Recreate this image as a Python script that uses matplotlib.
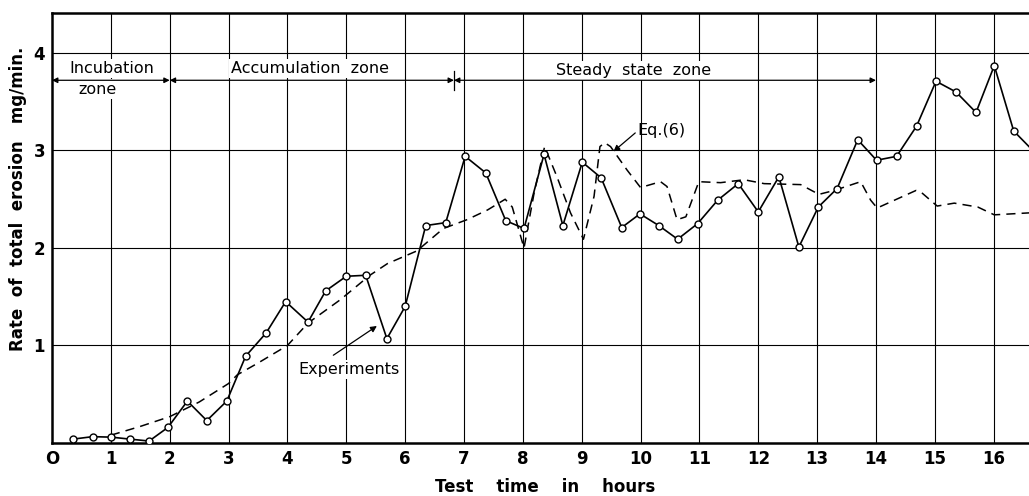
import numpy as np
import matplotlib.pyplot as plt

plt.rcParams['font.family'] = ['DejaVu Sans']

# Experiments (open circles), test time in hours vs rate of total erosion (mg/min)
exp_hours = [0.36, 0.69, 1.01, 1.32, 1.65, 1.97, 2.30, 2.63, 2.97, 3.29, 3.64, 3.97,
             4.35, 4.65, 5.00, 5.33, 5.69, 6.00, 6.35, 6.69, 7.02, 7.37, 7.71, 8.02,
             8.36, 8.68, 9.01, 9.33, 9.68, 9.99, 10.31, 10.63, 10.97, 11.31, 11.66,
             12.00, 12.35, 12.69, 13.02, 13.34, 13.69, 14.01, 14.35, 14.69, 15.02,
             15.36, 15.70, 16.01, 16.34]
exp_rate = [0.04, 0.065, 0.06, 0.04, 0.02, 0.16, 0.43, 0.23, 0.43, 0.89, 1.13, 1.45,
            1.24, 1.56, 1.71, 1.72, 1.07, 1.40, 2.23, 2.26, 2.94, 2.77, 2.28, 2.20,
            2.96, 2.23, 2.88, 2.72, 2.21, 2.35, 2.23, 2.09, 2.25, 2.49, 2.66,
            2.37, 2.73, 2.01, 2.42, 2.61, 3.11, 2.90, 2.94, 3.25, 3.71,
            3.60, 3.39, 3.87, 3.20]
# the curve runs on past the last circle to the frame edge
exp_tail_hours = [16.34, 16.6]
exp_tail_rate = [3.20, 3.04]

# Eq.(6) prediction (dashed)
eq_hours = [1.0, 1.5, 2.0, 2.5, 3.0, 3.15, 3.5, 4.0, 4.35, 4.9, 5.4, 5.7, 6.2, 6.65,
            7.05, 7.4, 7.7, 7.82, 8.02, 8.19, 8.37, 8.58, 8.81, 9.03, 9.21, 9.31,
            9.39, 9.49, 9.77, 10.0, 10.34, 10.45, 10.62, 10.77, 10.99, 11.36, 11.76,
            12.1, 12.72, 13.03, 13.29, 13.74, 13.91, 14.02, 14.68, 14.79, 15.04,
            15.33, 15.73, 16.01, 16.6]
eq_rate = [0.08, 0.17, 0.27, 0.42, 0.61, 0.70, 0.82, 1.0, 1.23, 1.47, 1.72, 1.84, 1.97, 2.2,
           2.29, 2.39, 2.50, 2.42, 2.0, 2.56, 3.04, 2.73, 2.36, 2.09, 2.53, 3.04,
           3.08, 3.04, 2.80, 2.62, 2.68, 2.63, 2.29, 2.32, 2.68, 2.67, 2.70,
           2.66, 2.65, 2.55, 2.59, 2.68, 2.49, 2.41, 2.59, 2.56, 2.43,
           2.46, 2.42, 2.34, 2.36]

x_ticks = list(range(0, 17))
x_labels = ['O'] + [str(i) for i in range(1, 17)]
y_ticks = [1, 2, 3, 4]

fig = plt.figure(figsize=(10.29, 4.96), dpi=100)
ax = fig.add_axes([52 / 1029, 53 / 496, 977 / 1029, 430 / 496])
ax.set_xlim(0, 16.6)
ax.set_ylim(0, 4.41)

# grid
for x in x_ticks[1:]:
    ax.axvline(x, color='black', lw=0.8, zorder=1)
for y in y_ticks:
    ax.axhline(y, color='black', lw=0.8, zorder=1)

ax.plot(exp_hours, exp_rate, '-', color='black', lw=1.2, zorder=3)
ax.plot(exp_tail_hours, exp_tail_rate, '-', color='black', lw=1.2, zorder=3)
ax.plot(exp_hours, exp_rate, 'o', ms=5, mfc='white', mec='black', mew=1.0, zorder=4)
ax.plot(eq_hours, eq_rate, '--', color='black', lw=1.1, dashes=(6, 4), zorder=2)

ax.set_xticks(x_ticks)
ax.set_xticklabels(x_labels, fontsize=12, fontweight='semibold')
ax.set_yticks(y_ticks)
ax.set_yticklabels([str(v) for v in y_ticks], fontsize=12, fontweight='bold')
ax.tick_params(length=0, pad=5)
for s in ['left', 'bottom', 'top']:
    ax.spines[s].set_linewidth(1.8)
ax.spines['right'].set_visible(False)

# zone annotations
ya = 3.72
arr = dict(arrowstyle='<|-|>', lw=0.9, color='black', mutation_scale=8, shrinkA=0, shrinkB=0)
ax.annotate('', xy=(2, ya), xytext=(0, ya), arrowprops=arr, zorder=5)
ax.annotate('', xy=(6.83, ya), xytext=(2, ya), arrowprops=arr, zorder=5)
ax.annotate('', xy=(14, ya), xytext=(6.83, ya), arrowprops=arr, zorder=5)
ax.plot([6.83, 6.83], [3.62, 3.82], color='black', lw=0.9, zorder=5)

box = dict(facecolor='white', edgecolor='none', pad=1.5)
ax.text(1.02, 3.84, 'Incubation', ha='center', va='center', fontsize=11.5, bbox=box, zorder=4)
ax.text(0.78, 3.63, 'zone', ha='center', va='center', fontsize=11.5, bbox=box, zorder=4)
ax.text(4.38, 3.84, 'Accumulation  zone', ha='center', va='center', fontsize=11.5, bbox=box, zorder=4)
ax.text(9.88, 3.82, 'Steady  state  zone', ha='center', va='center', fontsize=11.5, bbox=box, zorder=4)

ax.text(9.94, 3.21, 'Eq.(6)', ha='left', va='center', fontsize=11.5)
ax.annotate('', xy=(9.54, 2.99), xytext=(9.91, 3.18),
            arrowprops=dict(arrowstyle='-|>', lw=0.9, color='black', mutation_scale=9,
                            shrinkA=0, shrinkB=0))
ax.text(5.04, 0.75, 'Experiments', ha='center', va='center', fontsize=11.5, bbox=box, zorder=4)
ax.annotate('', xy=(5.52, 1.2), xytext=(4.78, 0.90),
            arrowprops=dict(arrowstyle='-|>', lw=0.9, color='black', mutation_scale=9,
                            shrinkA=0, shrinkB=0))

fig.text(545 / 1029, 1 - 487 / 496, 'Test    time    in    hours', ha='center', va='center',
         fontsize=12, fontweight='bold')
fig.text(18 / 1029, 1 - 199 / 496, 'Rate  of  total  erosion   mg/min.', ha='center', va='center',
         rotation=90, fontsize=12, fontweight='bold')

fig.savefig('out.png', dpi=100)
